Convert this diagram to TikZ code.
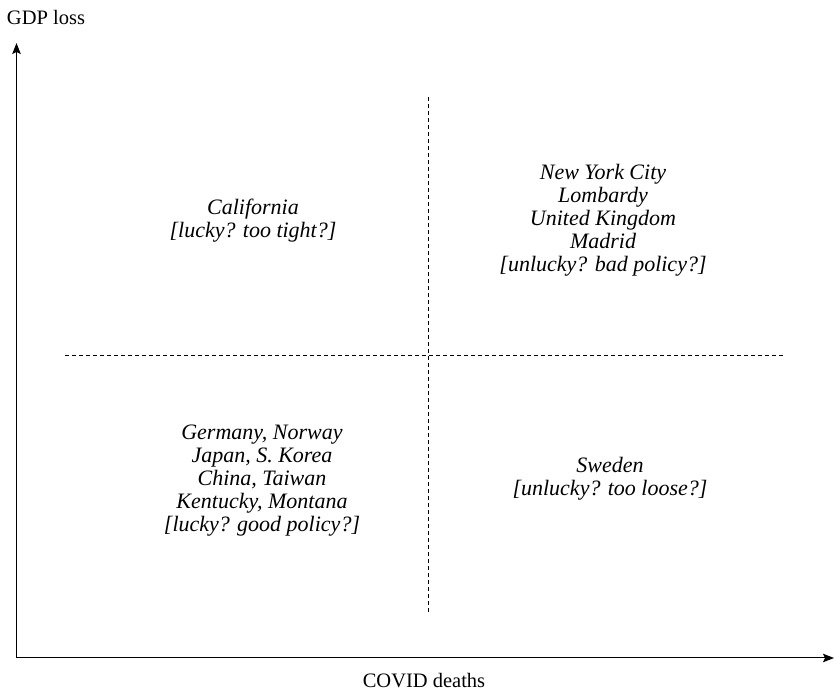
\documentclass[tikz,border=0pt]{standalone}
\usepackage{fontspec}
\setmainfont{Liberation Serif}
\usetikzlibrary{arrows.meta}
\begin{document}
\begin{tikzpicture}[x=1pt,y=1pt,
  axis/.style={line width=1pt,-{Stealth[length=11pt,width=8.5pt,inset=2pt]}},
  divider/.style={line width=0.9pt,dash pattern=on 4pt off 3pt},
  quad/.style={align=center,font=\fontsize{22}{23}\selectfont\itshape,inner sep=0pt},
  axlabel/.style={font=\fontsize{20.5}{22}\selectfont,inner sep=0pt}]
\useasboundingbox (0,0) rectangle (835,693);
\coordinate (O) at (16.5,35);
\coordinate (ytop) at (16.5,650);
\coordinate (xend) at (834,35);
\coordinate (hl) at (65,338);
\coordinate (hr) at (785,338);
\coordinate (vt) at (428,596);
\coordinate (vb) at (428,80);
\draw[axis] (O) -- (ytop);
\draw[axis] (O) -- (xend);
\draw[divider] (hl) -- (hr);
\draw[divider] (vt) -- (vb);
\node[axlabel] (ylab) at (46,676) {GDP loss};
\node[axlabel] (xlab) at (424,12) {COVID deaths};
\node[quad] (cal) at (253,472) {California\\{}[lucky? too tight?]};
\node[quad] (nyc) at (603,473) {New York City\\Lombardy\\United Kingdom\\Madrid\\{}[unlucky? bad policy?]};
\node[quad] (ger) at (262,212) {Germany, Norway\\Japan, S. Korea\\China, Taiwan\\Kentucky, Montana\\{}[lucky? good policy?]};
\node[quad] (swe) at (610,214) {Sweden\\{}[unlucky? too loose?]};
\end{tikzpicture}
\end{document}
